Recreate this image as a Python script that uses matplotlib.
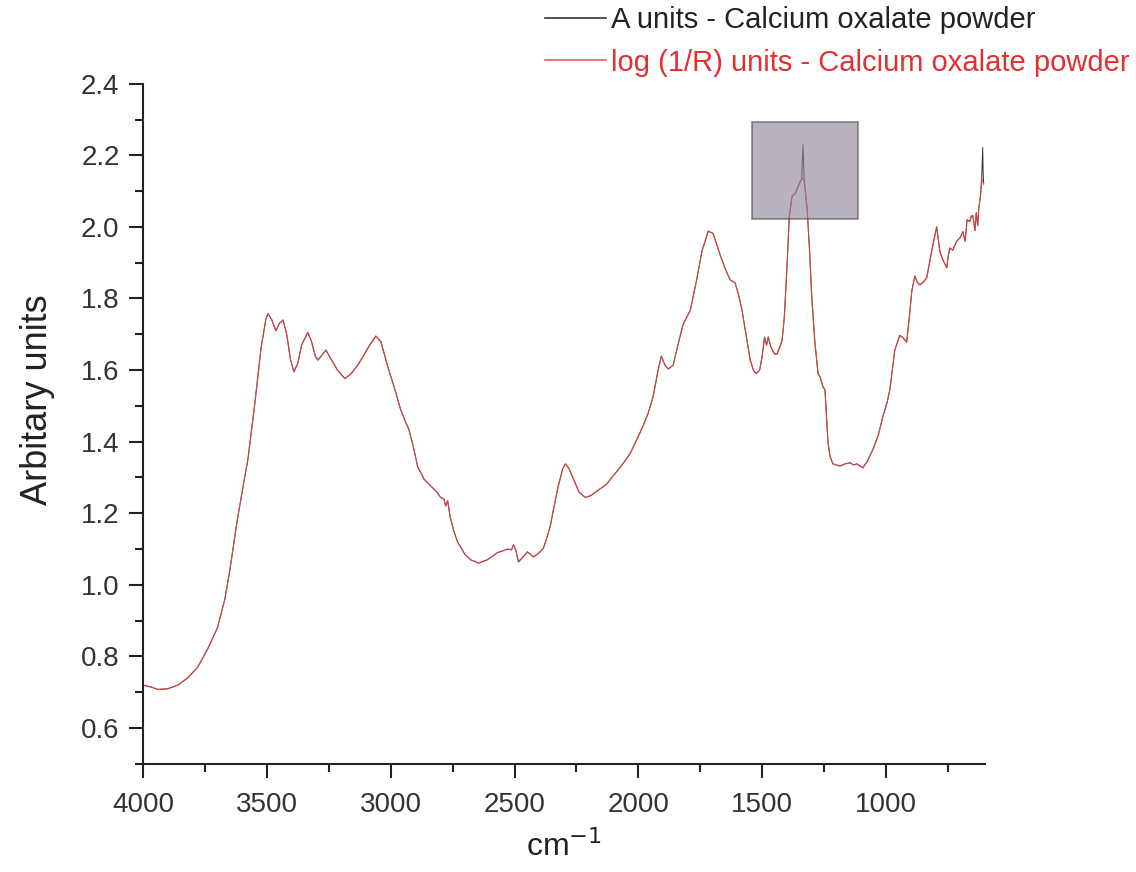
import matplotlib
matplotlib.use("Agg")
import matplotlib.pyplot as plt
from matplotlib.patches import Rectangle
from matplotlib.ticker import MultipleLocator

plt.rcParams["font.family"] = ["Liberation Sans", "DejaVu Sans"]

# log(1/R) spectrum of calcium oxalate powder (wavenumber in cm-1, descending)
wavenumber = [
    4000, 3970, 3940, 3900, 3860, 3820, 3780, 3740, 3700, 3670, 3650, 3620,
    3590, 3577, 3550, 3524, 3505, 3496, 3480, 3464, 3450, 3435, 3420, 3405,
    3391, 3375, 3360, 3335, 3320, 3305, 3294, 3280, 3262, 3240, 3215, 3185,
    3160, 3133, 3110, 3085, 3060, 3040, 3012, 2985, 2960, 2940, 2927, 2910,
    2891, 2865, 2839, 2815, 2798, 2785, 2778, 2770, 2760, 2745, 2730, 2700,
    2677, 2645, 2610, 2569, 2528, 2512, 2504, 2494, 2484, 2470, 2448, 2435,
    2423, 2400, 2383, 2370, 2355, 2340, 2323, 2305, 2294, 2280, 2262, 2240,
    2214, 2190, 2165, 2130, 2101, 2060, 2032, 2010, 1980, 1960, 1940, 1920,
    1907, 1893, 1879, 1859, 1840, 1819, 1790, 1765, 1742, 1730, 1718, 1698,
    1685, 1669, 1650, 1629, 1609, 1595, 1581, 1565, 1548, 1535, 1524, 1510,
    1500, 1490, 1482, 1475, 1465, 1450, 1440, 1428, 1419, 1410, 1399, 1390,
    1379, 1365, 1350, 1340, 1330, 1318, 1308, 1299, 1287, 1274, 1266, 1254,
    1246, 1234, 1226, 1214, 1186, 1165, 1145, 1130, 1117, 1093, 1075, 1052,
    1030, 1012, 995, 984, 964, 944, 930, 916, 905, 895, 883, 873,
    863, 850, 835, 815, 795, 782, 770, 754, 748, 742, 730, 714,
    700, 689, 680, 672, 661, 655, 649, 640, 635, 629, 625, 618,
    613, 605,
]
log_r = [
    0.720, 0.715, 0.708, 0.710, 0.720, 0.740, 0.770, 0.820, 0.880, 0.960, 1.040, 1.180,
    1.300, 1.350, 1.500, 1.660, 1.740, 1.758, 1.740, 1.710, 1.730, 1.740, 1.700, 1.630,
    1.595, 1.620, 1.670, 1.705, 1.680, 1.640, 1.628, 1.640, 1.656, 1.630, 1.600, 1.576,
    1.590, 1.614, 1.640, 1.670, 1.695, 1.680, 1.610, 1.550, 1.490, 1.455, 1.435, 1.390,
    1.330, 1.295, 1.277, 1.260, 1.244, 1.240, 1.220, 1.235, 1.190, 1.150, 1.120, 1.085,
    1.070, 1.061, 1.070, 1.090, 1.100, 1.098, 1.112, 1.095, 1.064, 1.075, 1.092, 1.085,
    1.078, 1.090, 1.103, 1.130, 1.166, 1.220, 1.277, 1.325, 1.338, 1.325, 1.296, 1.260,
    1.244, 1.250, 1.263, 1.280, 1.305, 1.340, 1.368, 1.400, 1.445, 1.480, 1.526, 1.600,
    1.639, 1.615, 1.603, 1.614, 1.670, 1.728, 1.767, 1.850, 1.935, 1.960, 1.988, 1.982,
    1.955, 1.921, 1.885, 1.852, 1.844, 1.810, 1.767, 1.700, 1.628, 1.600, 1.590, 1.600,
    1.637, 1.692, 1.670, 1.692, 1.665, 1.645, 1.645, 1.665, 1.684, 1.750, 1.894, 2.030,
    2.085, 2.095, 2.120, 2.135, 2.130, 2.050, 1.930, 1.800, 1.680, 1.590, 1.581, 1.553,
    1.545, 1.400, 1.360, 1.338, 1.332, 1.338, 1.341, 1.335, 1.338, 1.327, 1.345, 1.379,
    1.420, 1.471, 1.510, 1.545, 1.656, 1.697, 1.690, 1.678, 1.750, 1.822, 1.863, 1.845,
    1.838, 1.845, 1.858, 1.932, 2.000, 1.932, 1.908, 1.886, 1.920, 1.941, 1.935, 1.960,
    1.970, 1.987, 1.960, 2.020, 2.015, 2.030, 2.032, 1.990, 2.040, 2.004, 2.050, 2.087,
    2.134, 2.120,
]

# points where the A-units trace departs from the log(1/R) trace
a_extra_wn = [1338, 1335, 1332, 609, 607]
a_extra_val = [2.170, 2.230, 2.170, 2.222, 2.150]

# highlighted region around the 1330 cm-1 band
box_wn = (1113, 1540)
box_val = (2.021, 2.292)

pairs = sorted(zip(wavenumber + a_extra_wn, log_r + a_extra_val), reverse=True)
a_wn = [p[0] for p in pairs]
a_val = [p[1] for p in pairs]

fig = plt.figure(figsize=(11.36, 8.72), dpi=100)
ax = fig.add_axes([0.126, 0.124, 0.741, 0.780])

ax.plot(a_wn, a_val, color="#333333", lw=0.7, label="A units - Calcium oxalate powder")
ax.plot(wavenumber, log_r, color="#e04848", lw=0.9, alpha=0.85,
        label="log (1/R) units - Calcium oxalate powder")

ax.add_patch(Rectangle((box_wn[0], box_val[0]), box_wn[1] - box_wn[0],
                       box_val[1] - box_val[0], facecolor="#8e8096", alpha=0.6,
                       edgecolor="#444444", lw=1.2, zorder=5))

ax.set_xlim(4000, 600)
ax.set_ylim(0.5, 2.4)
ax.xaxis.set_major_locator(MultipleLocator(500))
ax.xaxis.set_minor_locator(MultipleLocator(250))
ax.yaxis.set_major_locator(MultipleLocator(0.2))
ax.yaxis.set_minor_locator(MultipleLocator(0.1))
ax.yaxis.set_major_formatter(matplotlib.ticker.FormatStrFormatter("%.1f"))

for side in ("top", "right"):
    ax.spines[side].set_visible(False)
for side in ("left", "bottom"):
    ax.spines[side].set_linewidth(1.5)
    ax.spines[side].set_color("#222222")

ax.tick_params(which="major", length=10, width=1.5, color="#222222",
               labelsize=20, labelcolor="#333333", pad=7)
ax.tick_params(axis="x", which="major", pad=10)
ax.tick_params(which="minor", length=6, width=1.5, color="#222222")

ax.set_xlabel("cm$^{-1}$", fontsize=23, color="#222222")
ax.xaxis.set_label_coords(0.5, -0.098)
ax.set_ylabel("Arbitary units", fontsize=26, color="#222222")
ax.yaxis.set_label_coords(-0.105, 0.535)

leg = ax.legend(loc="upper left", bbox_to_anchor=(0.4798, 0.993),
                bbox_transform=fig.transFigure, frameon=False, fontsize=21,
                handlelength=2.1, handletextpad=0.17, labelspacing=0.5,
                borderpad=0.0, borderaxespad=0.0,
                labelcolor=["#222222", "#e03030"])
for line in leg.get_lines():
    line.set_linewidth(1.2)

fig.savefig("out.png", dpi=100)
